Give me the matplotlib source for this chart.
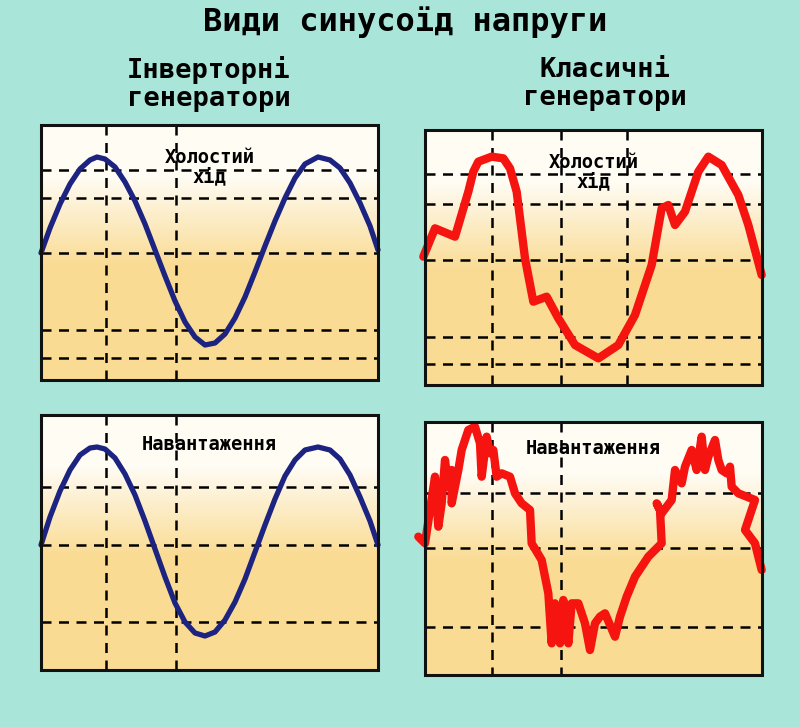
import numpy as np
import matplotlib.pyplot as plt
from matplotlib.patches import Rectangle

# Everything is laid out in image pixel coordinates (800 x 727, y downwards).
W, H = 800, 727

TITLE = "Види синусоїд напруги"
HEAD_LEFT = "Інверторні\nгенератори"
HEAD_RIGHT = "Класичні\nгенератори"
LABEL_IDLE = "Холостий\nхід"
LABEL_LOAD = "Навантаження"

# panel boxes: (x0, y0, x1, y1)
BOX_TL = (41, 125, 378, 380)
BOX_BL = (41, 415, 378, 670)
BOX_TR = (425, 130, 762, 385)
BOX_BR = (425, 422, 762, 675)

GRID_TL = ([106, 176], [170, 198, 253, 330, 358])
GRID_BL = ([106, 176], [487, 545, 622])
GRID_TR = ([492, 561, 627], [174, 204, 260, 337, 364])
GRID_BR = ([492, 561], [493, 548, 627])

# inverter sine, traced points
SINE_TL_X = [41, 50, 60, 70, 80, 90, 97, 105, 115, 125, 135, 145, 155, 165, 175, 185,
             195, 205, 215, 225, 235, 245, 255, 265, 275, 285, 295, 305, 318, 330,
             340, 350, 360, 370, 378]
SINE_TL_Y = [253, 228, 204, 184, 169, 160, 157, 159, 167, 182, 201, 224, 250, 276, 301,
             322, 337, 345, 343, 334, 318, 297, 272, 246, 221, 198, 178, 164, 157, 160,
             168, 183, 203, 226, 250]
SINE_BL_Y = [545, 517, 491, 470, 455, 448, 447, 449, 458, 474, 495, 521, 549, 577, 603,
             622, 633, 636, 632, 620, 602, 579, 552, 525, 499, 476, 460, 450, 447, 450,
             459, 475, 497, 521, 545]

# classic generator curves, traced on a 3x crop (crop offset 415,125 and 415,410)
RED_TR_ZX = [25, 60, 120, 160, 175, 190, 230, 265, 285, 305, 330, 355, 395, 430, 480,
             550, 610, 660, 710, 740, 760, 780, 810, 850, 880, 920, 970, 1000, 1040]
RED_TR_ZY = [395, 310, 335, 200, 140, 110, 95, 100, 130, 200, 400, 530, 515, 580, 660,
             700, 660, 570, 420, 250, 240, 300, 260, 140, 95, 120, 210, 300, 450]
RED_BR_ZX = [10, 30, 45, 60, 70, 80, 90, 100, 110, 110, 130, 140, 160, 180, 195, 200,
             215, 225, 235, 245, 260, 285, 300, 320, 345, 350, 380, 400, 410, 420, 435,
             445, 460, 470, 490, 510, 525, 540, 555, 570, 600, 615, 635, 660, 700, 740,
             735, 725, 740, 770, 780, 800, 810, 830, 845, 860, 870, 880, 900, 910, 920,
             935, 945, 950, 970, 1020, 1000, 990, 1020, 1040]
RED_BR_ZY = [380, 400, 300, 200, 350, 280, 150, 230, 180, 280, 180, 120, 60, 50, 100,
             200, 80, 130, 120, 200, 190, 200, 250, 280, 300, 400, 450, 550, 700, 580,
             700, 570, 700, 580, 580, 640, 720, 640, 620, 610, 680, 620, 560, 500, 440,
             400, 300, 280, 310, 270, 180, 220, 170, 120, 180, 80, 180, 140, 90, 150,
             180, 190, 170, 230, 250, 270, 330, 360, 400, 480]

BG = "#a9e5d9"
NAVY = "#1c2380"
RED = "#f5140f"
FONT = "DejaVu Sans Mono"


def draw_panel(ax, box, grid, label, label_y):
    x0, y0, x1, y1 = box
    grad = np.linspace(0, 1, 256)[:, None]
    grad = np.clip((grad - 0.2) / 0.35, 0, 1)
    top = np.array([1.0, 0.99, 0.96])
    bot = np.array([0.98, 0.86, 0.58])
    img = top + grad[..., None] * (bot - top)
    ax.imshow(img, extent=(x0, x1, y1, y0), aspect="auto", zorder=1)
    vx, hy = grid
    for x in vx:
        ax.plot([x, x], [y0, y1], color="black", lw=1.8, ls=(0, (4, 3)), zorder=2)
    for y in hy:
        ax.plot([x0, x1], [y, y], color="black", lw=1.8, ls=(0, (4, 3)), zorder=2)
    ax.add_patch(Rectangle((x0, y0), x1 - x0, y1 - y0, fill=False,
                           ec="#111111", lw=2.2, zorder=5))
    ax.text((x0 + x1) / 2 + 0, label_y, label, ha="center", va="center",
            fontsize=13.5, fontweight="bold", family=FONT, zorder=4, linespacing=1.05)


fig = plt.figure(figsize=(W / 100, H / 100), dpi=100, facecolor=BG)
ax = fig.add_axes([0, 0, 1, 1])
ax.set_xlim(0, W)
ax.set_ylim(H, 0)
ax.axis("off")

ax.text(405, 22, TITLE, ha="center", va="center", fontsize=23,
        fontweight="bold", family=FONT)
ax.text(209, 84, HEAD_LEFT, ha="center", va="center", fontsize=19.5,
        fontweight="bold", family=FONT, linespacing=1.1)
ax.text(605, 84, HEAD_RIGHT, ha="center", va="center", fontsize=19.5,
        fontweight="bold", family=FONT, linespacing=1.1)

draw_panel(ax, BOX_TL, GRID_TL, LABEL_IDLE, 167)
draw_panel(ax, BOX_BL, GRID_BL, LABEL_LOAD, 444)
draw_panel(ax, BOX_TR, GRID_TR, LABEL_IDLE, 172)
draw_panel(ax, BOX_BR, GRID_BR, LABEL_LOAD, 449)

ax.plot(SINE_TL_X, SINE_TL_Y, color=NAVY, lw=3.8, solid_capstyle="round",
        solid_joinstyle="round", zorder=3)
ax.plot(SINE_TL_X, SINE_BL_Y, color=NAVY, lw=3.8, solid_capstyle="round",
        solid_joinstyle="round", zorder=3)

rx = np.array(RED_TR_ZX) / 3 + 415
ry = np.array(RED_TR_ZY) / 3 + 125
ax.plot(rx, ry, color=RED, lw=6, solid_capstyle="round",
        solid_joinstyle="round", zorder=3)
rx = np.array(RED_BR_ZX) / 3 + 415
ry = np.array(RED_BR_ZY) / 3 + 410
ax.plot(rx, ry, color=RED, lw=6, solid_capstyle="round",
        solid_joinstyle="round", zorder=3)

fig.savefig("out.png", dpi=100, facecolor=BG)
